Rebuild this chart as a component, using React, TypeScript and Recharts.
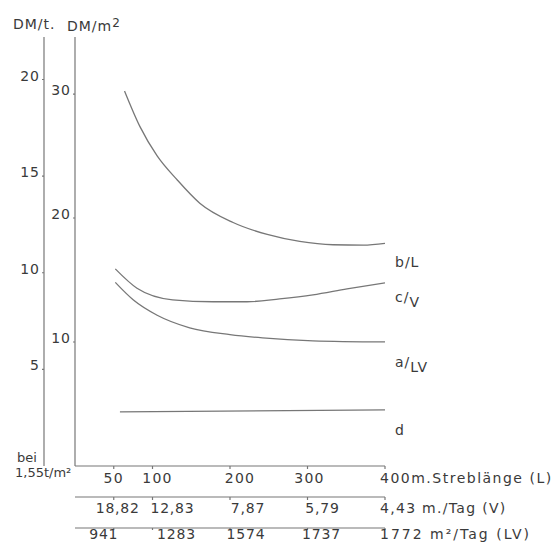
import { LineChart, Line, XAxis, YAxis } from "recharts";

// Streblänge L (m) and the rows under it
const lengthTicks = [50, 100, 200, 300, 400];
const lengthLabels = ["50", "100", "200", "300", "400m.Streblänge (L)"];
const advanceLabels = ["18,82", "12,83", "7,87", "5,79", "4,43 m./Tag (V)"];
const areaLabels = ["941", "1283", "1574", "1737", "1772 m²/Tag (LV)"];

const perTonTicks = [5, 10, 15, 20];
const perSquareTicks = [10, 20, 30];

// curves, DM/t over Streblänge
const bLength = [64, 84, 106, 132, 161, 204, 248, 290, 333, 372, 400];
const bValues = [19.4, 17.55, 16.05, 14.8, 13.6, 12.6, 11.98, 11.62, 11.45, 11.43, 11.52];

const cLength = [52, 80, 126, 178, 222, 264, 307, 351, 400];
const cValues = [10.2, 9.2, 8.6, 8.5, 8.5, 8.65, 8.86, 9.17, 9.48];

const aLength = [52, 75, 106, 148, 200, 242, 307, 400];
const aValues = [9.5, 8.6, 7.8, 7.15, 6.8, 6.63, 6.48, 6.42];

const dLength = [58, 400];
const dValues = [2.8, 2.9];

const toRows = (xs: number[], ys: number[]) => xs.map((L, i) => ({ L, v: ys[i] }));
const tickRows = lengthTicks.map((L) => ({ L }));

const INK = "#3a3a3a";
const LINE = "#777";
const FONT = "'DejaVu Sans', sans-serif";

const yTick = (props: any) => {
  const { x, y, payload } = props;
  return (
    <text x={x} y={y - 4} textAnchor="end" dominantBaseline="central" fontSize={14} letterSpacing={1} fill={INK} fontFamily={FONT}>
      {payload.value}
    </text>
  );
};

// hand-lettered labels sit a little off their ticks
type RowStyle = { labels: string[]; nudge: number[]; dy: number; spacing: number; lastSpacing: number };

const xTick = (row: RowStyle) => (props: any) => {
  const { x, y, payload } = props;
  const i = lengthTicks.indexOf(payload.value);
  const last = i === lengthTicks.length - 1;
  return (
    <text
      x={last ? x - 5 : x + row.nudge[i]}
      y={y + row.dy}
      textAnchor={last ? "start" : "middle"}
      dominantBaseline="central"
      fontSize={14}
      letterSpacing={last ? row.lastSpacing : row.spacing}
      fill={INK}
      fontFamily={FONT}
    >
      {row.labels[i]}
    </text>
  );
};

const rowL: RowStyle = { labels: lengthLabels, nudge: [0, 5, 10, 2], dy: 7, spacing: 1.3, lastSpacing: 1.5 };
const rowV: RowStyle = { labels: advanceLabels, nudge: [4, 20, 18, 15], dy: 6, spacing: 0.8, lastSpacing: 1.3 };
const rowLV: RowStyle = { labels: areaLabels, nudge: [-10, 24, 16, 14], dy: 2, spacing: 0.8, lastSpacing: 2 };

const endLabel = (count: number, dy: number, main: string, sub?: string) => (props: any) => {
  const { x, y, index } = props;
  if (index !== count - 1) return <g key={index} />;
  return (
    <text key={index} x={x + 10} y={y + dy} fontSize={14} letterSpacing={1} fill={INK} fontFamily={FONT} dominantBaseline="central">
      {main}
      {sub ? <tspan dy={5}>{sub}</tspan> : null}
    </text>
  );
};

export default function App() {
  return (
    <div style={{ position: "absolute", left: 0, top: 0, width: 560, height: 544, background: "#fff" }}>
      <LineChart width={560} height={544} data={tickRows} margin={{ top: 37, right: 175, bottom: 0, left: 0 }}>
        <XAxis
          xAxisId="x1"
          type="number"
          dataKey="L"
          domain={[0, 400]}
          ticks={lengthTicks}
          allowDataOverflow
          height={31}
          stroke={LINE}
          strokeWidth={1.2}
          tickSize={3}
          tick={xTick(rowL)}
        />
        <XAxis
          xAxisId="x2"
          type="number"
          dataKey="L"
          domain={[0, 400]}
          ticks={lengthTicks}
          allowDataOverflow
          height={31}
          stroke={LINE}
          strokeWidth={1.2}
          tickSize={3}
          tick={xTick(rowV)}
        />
        <XAxis
          xAxisId="x3"
          type="number"
          dataKey="L"
          domain={[0, 400]}
          ticks={lengthTicks}
          allowDataOverflow
          height={16}
          stroke={LINE}
          strokeWidth={1.2}
          tickSize={2}
          tick={xTick(rowLV)}
        />
        <YAxis
          yAxisId="m2"
          type="number"
          domain={[0, 34.6]}
          ticks={perSquareTicks}
          allowDataOverflow
          width={31}
          stroke={LINE}
          strokeWidth={1.2}
          tickSize={2}
          tickMargin={2}
          tick={yTick}
        />
        <YAxis
          yAxisId="t"
          type="number"
          domain={[0, 22.2]}
          ticks={perTonTicks}
          allowDataOverflow
          width={44}
          stroke={LINE}
          strokeWidth={1.2}
          tickSize={2}
          tickMargin={2}
          tick={yTick}
        />
        <Line
          xAxisId="x1"
          yAxisId="t"
          data={toRows(bLength, bValues)}
          dataKey="v"
          type="monotone"
          stroke={LINE}
          strokeWidth={1.3}
          dot={false}
          isAnimationActive={false}
          label={endLabel(bLength.length, 19, "b/L")}
        />
        <Line
          xAxisId="x1"
          yAxisId="t"
          data={toRows(cLength, cValues)}
          dataKey="v"
          type="monotone"
          stroke={LINE}
          strokeWidth={1.3}
          dot={false}
          isAnimationActive={false}
          label={endLabel(cLength.length, 14, "c/", "V")}
        />
        <Line
          xAxisId="x1"
          yAxisId="t"
          data={toRows(aLength, aValues)}
          dataKey="v"
          type="monotone"
          stroke={LINE}
          strokeWidth={1.3}
          dot={false}
          isAnimationActive={false}
          label={endLabel(aLength.length, 20, "a/", "LV")}
        />
        <Line
          xAxisId="x1"
          yAxisId="t"
          data={toRows(dLength, dValues)}
          dataKey="v"
          type="monotone"
          stroke={LINE}
          strokeWidth={1.3}
          dot={false}
          isAnimationActive={false}
          label={endLabel(dLength.length, 20, "d")}
        />
      </LineChart>
      <div style={{ position: "absolute", left: 13, top: 16, fontSize: 14, letterSpacing: 1, color: INK, fontFamily: FONT }}>DM/t.</div>
      <div style={{ position: "absolute", left: 67, top: 16, fontSize: 14, letterSpacing: 1, color: INK, fontFamily: FONT }}>
        DM/m<sup style={{ fontSize: 12, verticalAlign: 4 }}>2</sup>
      </div>
      <div style={{ position: "absolute", left: 17, top: 450, fontSize: 13, color: INK, fontFamily: FONT, lineHeight: "15px" }}>
        bei
        <br />
        <span style={{ marginLeft: -2 }}>1,55t/m²</span>
      </div>
    </div>
  );
}
